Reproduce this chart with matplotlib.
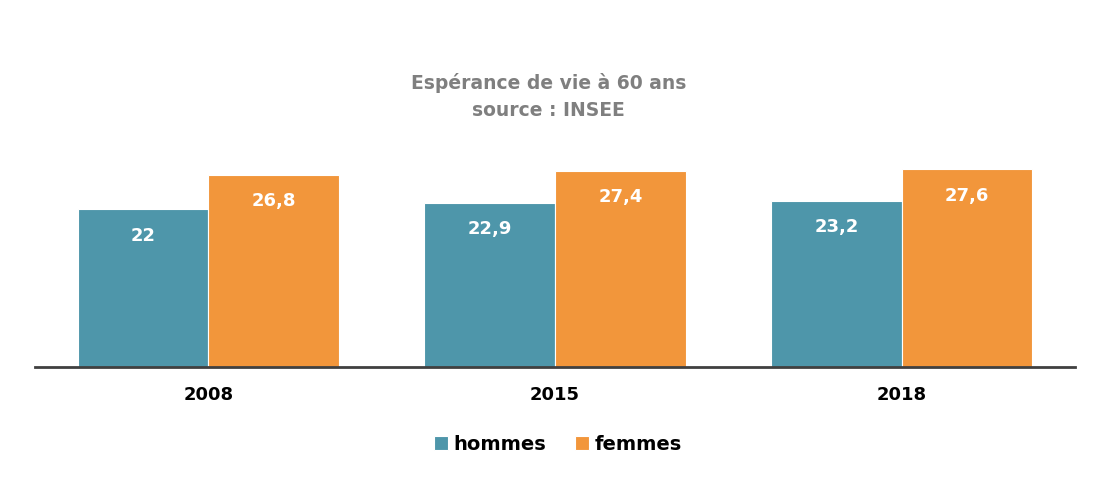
import matplotlib
matplotlib.use("Agg")
import matplotlib.pyplot as plt
import numpy as np

years = ["2008", "2015", "2018"]
hommes = [22.0, 22.9, 23.2]
femmes = [26.8, 27.4, 27.6]
series_names = ["hommes", "femmes"]
colors = ["#4E96AA", "#F2963B"]

plt.rcParams['font.family'] = ['DejaVu Sans']

fig = plt.figure(figsize=(10.97, 4.84), dpi=100)
ax = fig.add_axes([35/1097, 117/484, 1040/1097, 215/484])

x = np.arange(len(years))
w = 0.377
b1 = ax.bar(x - w/2, hommes, w, color=colors[0], edgecolor="white", linewidth=0.8, label=series_names[0])
b2 = ax.bar(x + w/2, femmes, w, color=colors[1], edgecolor="white", linewidth=0.8, label=series_names[1])

def fmt(v):
    s = ("%.1f" % v).rstrip("0").rstrip(".")
    return s.replace(".", ",")

for bars, vals in ((b1, hommes), (b2, femmes)):
    for r, v in zip(bars, vals):
        ax.annotate(fmt(v), (r.get_x() + r.get_width()/2, v), xytext=(0, -19),
                    textcoords="offset points", ha="center", va="center",
                    color="white", fontsize=13, fontweight="bold")

ax.set_xlim(-0.5, 2.5)
ax.set_ylim(0, 30)
ax.set_yticks([])
ax.set_xticks(x)
ax.set_xticklabels(years, fontsize=13, fontweight="bold", color="black")
ax.tick_params(axis="x", length=0, pad=14)
for s in ["top", "right", "left"]:
    ax.spines[s].set_visible(False)
ax.spines["bottom"].set_color("#404040")
ax.spines["bottom"].set_linewidth(2)

fig.text(0.5, 1 - 83/484, "Espérance de vie à 60 ans", ha="center", va="center",
         fontsize=13.5, fontweight="bold", color="#7F7F7F")
fig.text(0.5, 1 - 110/484, "source : INSEE", ha="center", va="center",
         fontsize=13.5, fontweight="bold", color="#7F7F7F")

leg = fig.legend(loc="center", bbox_to_anchor=(558/1097, 1 - 444/484), ncol=2,
                 frameon=False, fontsize=14, handlelength=0.7, handleheight=0.7,
                 handletextpad=0.3, columnspacing=1.5)
for t in leg.get_texts():
    t.set_fontweight("bold")

fig.savefig("out.png", dpi=100)
